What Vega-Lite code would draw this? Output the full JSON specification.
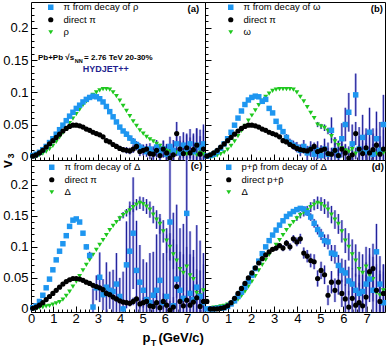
{
"$schema":"https://vega.github.io/schema/vega-lite/v6.json",
"background":"white",
"padding":{"left":0,"top":1,"right":2,"bottom":0},
"columns":2,"spacing":0,"align":"each","bounds":"flush",
"resolve":{"scale":{"x":"independent","y":"independent","color":"independent","shape":"independent","size":"independent"},"legend":{"color":"independent","shape":"independent","size":"independent"},"axis":{"x":"independent","y":"independent"}},
"config":{
"font":"Liberation Sans",
"view":{"stroke":"#000","strokeWidth":1},
"axis":{"domain":false,"grid":false,"tickColor":"#000","labelColor":"#000","labelFontSize":13,"labelFlush":false,"labelOverlap":false,"labelFont":"Liberation Sans"},
"legend":{"labelFontSize":9.5,"labelColor":"#000","rowPadding":1.5,"labelOffset":8,"symbolStrokeWidth":0,"labelFont":"Liberation Sans","padding":0},
"text":{"font":"Liberation Sans","fill":"#000"}
},
"datasets":{
"a":[
{"s":"r","x":0.08,"y":0},{"s":"r","x":0.23,"y":0.001},{"s":"r","x":0.38,"y":0.003},{"s":"r","x":0.53,"y":0.005},{"s":"r","x":0.68,"y":0.008},{"s":"r","x":0.83,"y":0.012},{"s":"r","x":0.98,"y":0.017},{"s":"r","x":1.13,"y":0.023},{"s":"r","x":1.28,"y":0.03},{"s":"r","x":1.43,"y":0.037},{"s":"r","x":1.58,"y":0.044},{"s":"r","x":1.73,"y":0.052},{"s":"r","x":1.88,"y":0.059},{"s":"r","x":2.03,"y":0.066},{"s":"r","x":2.18,"y":0.073},{"s":"r","x":2.33,"y":0.08},{"s":"r","x":2.48,"y":0.086},{"s":"r","x":2.63,"y":0.091},{"s":"r","x":2.78,"y":0.096},{"s":"r","x":2.93,"y":0.1},{"s":"r","x":3.08,"y":0.103},{"s":"r","x":3.23,"y":0.105},{"s":"r","x":3.38,"y":0.105},{"s":"r","x":3.53,"y":0.104},{"s":"r","x":3.68,"y":0.1},{"s":"r","x":3.83,"y":0.094},{"s":"r","x":3.98,"y":0.087},{"s":"r","x":4.13,"y":0.079},{"s":"r","x":4.28,"y":0.071},{"s":"r","x":4.43,"y":0.063},{"s":"r","x":4.58,"y":0.055},{"s":"r","x":4.73,"y":0.048},{"s":"r","x":4.88,"y":0.041},{"s":"r","x":5.03,"y":0.036},{"s":"r","x":5.18,"y":0.031},{"s":"r","x":5.33,"y":0.027},{"s":"r","x":5.48,"y":0.024},{"s":"r","x":5.63,"y":0.02},{"s":"r","x":5.78,"y":0.017},{"s":"r","x":5.93,"y":0.013,"e":0.004},{"s":"r","x":6.08,"y":0.01,"e":0.005},{"s":"r","x":6.23,"y":0.008,"e":0.005},{"s":"r","x":6.38,"y":0.006,"e":0.006},{"s":"r","x":6.53,"y":0.007,"e":0.006},{"s":"r","x":6.68,"y":0.005,"e":0.007},{"s":"r","x":6.83,"y":0.006,"e":0.007},{"s":"r","x":6.98,"y":0.004,"e":0.008},{"s":"r","x":7.13,"y":0.006,"e":0.008},{"s":"r","x":7.28,"y":0.005,"e":0.009},{"s":"r","x":7.43,"y":0.003,"e":0.009},{"s":"r","x":7.58,"y":0.006,"e":0.01},{"s":"r","x":7.73,"y":0.004,"e":0.01},
{"s":"q","x":0.08,"y":0.002},{"s":"q","x":0.23,"y":0.004},{"s":"q","x":0.38,"y":0.007},{"s":"q","x":0.53,"y":0.011},{"s":"q","x":0.68,"y":0.016},{"s":"q","x":0.83,"y":0.022},{"s":"q","x":0.98,"y":0.028},{"s":"q","x":1.13,"y":0.035},{"s":"q","x":1.28,"y":0.042},{"s":"q","x":1.43,"y":0.049},{"s":"q","x":1.58,"y":0.056},{"s":"q","x":1.73,"y":0.063},{"s":"q","x":1.88,"y":0.069},{"s":"q","x":2.03,"y":0.075},{"s":"q","x":2.18,"y":0.08},{"s":"q","x":2.33,"y":0.085},{"s":"q","x":2.48,"y":0.089},{"s":"q","x":2.63,"y":0.092},{"s":"q","x":2.78,"y":0.094},{"s":"q","x":2.93,"y":0.093},{"s":"q","x":3.08,"y":0.09},{"s":"q","x":3.23,"y":0.085},{"s":"q","x":3.38,"y":0.078},{"s":"q","x":3.53,"y":0.07},{"s":"q","x":3.68,"y":0.062},{"s":"q","x":3.83,"y":0.054},{"s":"q","x":3.98,"y":0.046},{"s":"q","x":4.13,"y":0.04,"e":0.003},{"s":"q","x":4.28,"y":0.035,"e":0.004},{"s":"q","x":4.43,"y":0.029,"e":0.004},{"s":"q","x":4.58,"y":0.024,"e":0.005},{"s":"q","x":4.73,"y":0.019,"e":0.005},{"s":"q","x":4.88,"y":0.015,"e":0.006},{"s":"q","x":5.03,"y":0.012,"e":0.007},{"s":"q","x":5.18,"y":0.008,"e":0.008},{"s":"q","x":5.33,"y":0.012,"e":0.009},{"s":"q","x":5.48,"y":0.006,"e":0.01},{"s":"q","x":5.63,"y":0.015,"e":0.011},{"s":"q","x":5.78,"y":0.008,"e":0.012},{"s":"q","x":5.93,"y":0.012,"e":0.013},{"s":"q","x":6.08,"y":0.004,"e":0.014},{"s":"q","x":6.23,"y":0.016,"e":0.015},{"s":"q","x":6.38,"y":0.01,"e":0.016},{"s":"q","x":6.53,"y":0.02,"e":0.018},{"s":"q","x":6.68,"y":0.006,"e":0.019},{"s":"q","x":6.83,"y":0.018,"e":0.02},{"s":"q","x":6.98,"y":0.012,"e":0.022},{"s":"q","x":7.13,"y":0.02,"e":0.023},{"s":"q","x":7.28,"y":0.008,"e":0.025},{"s":"q","x":7.43,"y":0.018,"e":0.026},{"s":"q","x":7.58,"y":0.014,"e":0.028},{"s":"q","x":7.73,"y":0.02,"e":0.03},
{"s":"d","x":0.08,"y":0.001},{"s":"d","x":0.23,"y":0.003},{"s":"d","x":0.38,"y":0.006},{"s":"d","x":0.53,"y":0.01},{"s":"d","x":0.68,"y":0.015},{"s":"d","x":0.83,"y":0.02},{"s":"d","x":0.98,"y":0.025},{"s":"d","x":1.13,"y":0.03},{"s":"d","x":1.28,"y":0.035},{"s":"d","x":1.43,"y":0.04},{"s":"d","x":1.58,"y":0.044},{"s":"d","x":1.73,"y":0.047},{"s":"d","x":1.88,"y":0.049},{"s":"d","x":2.03,"y":0.049},{"s":"d","x":2.18,"y":0.048},{"s":"d","x":2.33,"y":0.046},{"s":"d","x":2.48,"y":0.043},{"s":"d","x":2.63,"y":0.041},{"s":"d","x":2.78,"y":0.038},{"s":"d","x":2.93,"y":0.036},{"s":"d","x":3.08,"y":0.034},{"s":"d","x":3.23,"y":0.031},{"s":"d","x":3.38,"y":0.025,"e":0.003},{"s":"d","x":3.53,"y":0.023,"e":0.003},{"s":"d","x":3.68,"y":0.019,"e":0.003},{"s":"d","x":3.83,"y":0.016,"e":0.004},{"s":"d","x":3.98,"y":0.013,"e":0.004},{"s":"d","x":4.13,"y":0.011,"e":0.004},{"s":"d","x":4.28,"y":0.01,"e":0.005},{"s":"d","x":4.43,"y":0.009,"e":0.005},{"s":"d","x":4.58,"y":0.012,"e":0.006},{"s":"d","x":4.73,"y":0.016,"e":0.006},{"s":"d","x":4.88,"y":0.008,"e":0.007},{"s":"d","x":5.03,"y":0.01,"e":0.008},{"s":"d","x":5.18,"y":0.012,"e":0.008},{"s":"d","x":5.33,"y":0.005,"e":0.009},{"s":"d","x":5.48,"y":0.004,"e":0.01},{"s":"d","x":5.63,"y":0.01,"e":0.011},{"s":"d","x":5.78,"y":0.002,"e":0.012},{"s":"d","x":5.93,"y":0.012,"e":0.013},{"s":"d","x":6.08,"y":0.006,"e":0.014},{"s":"d","x":6.23,"y":-0.002,"e":0.015},{"s":"d","x":6.38,"y":0.003,"e":0.016},{"s":"d","x":6.53,"y":0.036,"e":0.018},{"s":"d","x":6.68,"y":0.012,"e":0.02},{"s":"d","x":6.83,"y":0.005,"e":0.02},{"s":"d","x":6.98,"y":0.014,"e":0.022},{"s":"d","x":7.13,"y":0.006,"e":0.024},{"s":"d","x":7.28,"y":0.011,"e":0.025},{"s":"d","x":7.43,"y":0.018,"e":0.026},{"s":"d","x":7.58,"y":0.004,"e":0.028},{"s":"d","x":7.73,"y":0.012,"e":0.03}
],
"b":[
{"s":"r","x":0.08,"y":0},{"s":"r","x":0.23,"y":0},{"s":"r","x":0.38,"y":0.001},{"s":"r","x":0.53,"y":0.002},{"s":"r","x":0.68,"y":0.004},{"s":"r","x":0.83,"y":0.007},{"s":"r","x":0.98,"y":0.011},{"s":"r","x":1.13,"y":0.017},{"s":"r","x":1.28,"y":0.024},{"s":"r","x":1.43,"y":0.032},{"s":"r","x":1.58,"y":0.04},{"s":"r","x":1.73,"y":0.048},{"s":"r","x":1.88,"y":0.056},{"s":"r","x":2.03,"y":0.064},{"s":"r","x":2.18,"y":0.072},{"s":"r","x":2.33,"y":0.08},{"s":"r","x":2.48,"y":0.087},{"s":"r","x":2.63,"y":0.093},{"s":"r","x":2.78,"y":0.098},{"s":"r","x":2.93,"y":0.102},{"s":"r","x":3.08,"y":0.104},{"s":"r","x":3.23,"y":0.105},{"s":"r","x":3.38,"y":0.105},{"s":"r","x":3.53,"y":0.105},{"s":"r","x":3.68,"y":0.105},{"s":"r","x":3.83,"y":0.104},{"s":"r","x":3.98,"y":0.1},{"s":"r","x":4.13,"y":0.093},{"s":"r","x":4.28,"y":0.086},{"s":"r","x":4.43,"y":0.077},{"s":"r","x":4.58,"y":0.068},{"s":"r","x":4.73,"y":0.06},{"s":"r","x":4.88,"y":0.05,"e":0.004},{"s":"r","x":5.03,"y":0.047,"e":0.004},{"s":"r","x":5.18,"y":0.045,"e":0.005},{"s":"r","x":5.33,"y":0.04,"e":0.005},{"s":"r","x":5.48,"y":0.032,"e":0.006},{"s":"r","x":5.63,"y":0.024,"e":0.006},{"s":"r","x":5.78,"y":0.018,"e":0.007},{"s":"r","x":5.93,"y":0.013,"e":0.007},{"s":"r","x":6.08,"y":0.01,"e":0.008},{"s":"r","x":6.23,"y":0.008,"e":0.008},{"s":"r","x":6.38,"y":0.012,"e":0.009},{"s":"r","x":6.53,"y":0.005,"e":0.009},{"s":"r","x":6.68,"y":0.009,"e":0.01},{"s":"r","x":6.83,"y":0.006,"e":0.01},{"s":"r","x":6.98,"y":0.01,"e":0.011},{"s":"r","x":7.13,"y":0.004,"e":0.011},{"s":"r","x":7.28,"y":0.008,"e":0.012},{"s":"r","x":7.43,"y":0.005,"e":0.012},{"s":"r","x":7.58,"y":0.01,"e":0.013},{"s":"r","x":7.73,"y":0.006,"e":0.013},
{"s":"q","x":0.08,"y":0.001},{"s":"q","x":0.23,"y":0.002},{"s":"q","x":0.38,"y":0.004},{"s":"q","x":0.53,"y":0.008},{"s":"q","x":0.68,"y":0.013},{"s":"q","x":0.83,"y":0.02},{"s":"q","x":0.98,"y":0.028},{"s":"q","x":1.13,"y":0.038},{"s":"q","x":1.28,"y":0.049},{"s":"q","x":1.43,"y":0.06},{"s":"q","x":1.58,"y":0.071},{"s":"q","x":1.73,"y":0.081},{"s":"q","x":1.88,"y":0.088},{"s":"q","x":2.03,"y":0.092},{"s":"q","x":2.18,"y":0.094},{"s":"q","x":2.33,"y":0.093},{"s":"q","x":2.48,"y":0.086},{"s":"q","x":2.63,"y":0.089},{"s":"q","x":2.78,"y":0.075},{"s":"q","x":2.93,"y":0.068},{"s":"q","x":3.08,"y":0.055},{"s":"q","x":3.23,"y":0.046},{"s":"q","x":3.38,"y":0.039,"e":0.004},{"s":"q","x":3.53,"y":0.03,"e":0.005},{"s":"q","x":3.68,"y":0.022,"e":0.006},{"s":"q","x":3.83,"y":0.018,"e":0.007},{"s":"q","x":3.98,"y":0.015,"e":0.008},{"s":"q","x":4.13,"y":0.01,"e":0.009},{"s":"q","x":4.28,"y":0.016,"e":0.01},{"s":"q","x":4.43,"y":0.006,"e":0.011},{"s":"q","x":4.58,"y":0.012,"e":0.012},{"s":"q","x":4.73,"y":0.004,"e":0.013},{"s":"q","x":4.88,"y":0.01,"e":0.014},{"s":"q","x":5.03,"y":0.002,"e":0.015},{"s":"q","x":5.18,"y":0.012,"e":0.016},{"s":"q","x":5.33,"y":0.004,"e":0.018},{"s":"q","x":5.48,"y":0.041,"e":0.02},{"s":"q","x":5.63,"y":0.01,"e":0.02},{"s":"q","x":5.78,"y":0.002,"e":0.022},{"s":"q","x":5.93,"y":0.028,"e":0.024},{"s":"q","x":6.08,"y":0.05,"e":0.026},{"s":"q","x":6.23,"y":0.069,"e":0.03},{"s":"q","x":6.38,"y":0.02,"e":0.03},{"s":"q","x":6.53,"y":0.096,"e":0.033},{"s":"q","x":6.68,"y":0.012,"e":0.034},{"s":"q","x":6.83,"y":0.03,"e":0.035},{"s":"q","x":6.98,"y":0.008,"e":0.036},{"s":"q","x":7.13,"y":0.038,"e":0.038},{"s":"q","x":7.28,"y":0.004,"e":0.04},{"s":"q","x":7.43,"y":0.028,"e":0.042},{"s":"q","x":7.58,"y":0.01,"e":0.044},{"s":"q","x":7.73,"y":0.05,"e":0.046},
{"s":"d","x":0.08,"y":0.001},{"s":"d","x":0.23,"y":0.003},{"s":"d","x":0.38,"y":0.006},{"s":"d","x":0.53,"y":0.01},{"s":"d","x":0.68,"y":0.015},{"s":"d","x":0.83,"y":0.02},{"s":"d","x":0.98,"y":0.025},{"s":"d","x":1.13,"y":0.03},{"s":"d","x":1.28,"y":0.035},{"s":"d","x":1.43,"y":0.04},{"s":"d","x":1.58,"y":0.044},{"s":"d","x":1.73,"y":0.047},{"s":"d","x":1.88,"y":0.049},{"s":"d","x":2.03,"y":0.049},{"s":"d","x":2.18,"y":0.048},{"s":"d","x":2.33,"y":0.046},{"s":"d","x":2.48,"y":0.043},{"s":"d","x":2.63,"y":0.041},{"s":"d","x":2.78,"y":0.038},{"s":"d","x":2.93,"y":0.036},{"s":"d","x":3.08,"y":0.034},{"s":"d","x":3.23,"y":0.031},{"s":"d","x":3.38,"y":0.025,"e":0.003},{"s":"d","x":3.53,"y":0.023,"e":0.003},{"s":"d","x":3.68,"y":0.019,"e":0.003},{"s":"d","x":3.83,"y":0.016,"e":0.004},{"s":"d","x":3.98,"y":0.013,"e":0.004},{"s":"d","x":4.13,"y":0.011,"e":0.004},{"s":"d","x":4.28,"y":0.01,"e":0.005},{"s":"d","x":4.43,"y":0.009,"e":0.005},{"s":"d","x":4.58,"y":0.012,"e":0.006},{"s":"d","x":4.73,"y":0.016,"e":0.006},{"s":"d","x":4.88,"y":0.008,"e":0.007},{"s":"d","x":5.03,"y":0.01,"e":0.008},{"s":"d","x":5.18,"y":0.012,"e":0.008},{"s":"d","x":5.33,"y":0.005,"e":0.009},{"s":"d","x":5.48,"y":0.004,"e":0.01},{"s":"d","x":5.63,"y":0.01,"e":0.011},{"s":"d","x":5.78,"y":0.002,"e":0.012},{"s":"d","x":5.93,"y":0.012,"e":0.013},{"s":"d","x":6.08,"y":0.006,"e":0.014},{"s":"d","x":6.23,"y":-0.002,"e":0.015},{"s":"d","x":6.38,"y":0.003,"e":0.016},{"s":"d","x":6.53,"y":0.036,"e":0.018},{"s":"d","x":6.68,"y":0.012,"e":0.02},{"s":"d","x":6.83,"y":0.005,"e":0.02},{"s":"d","x":6.98,"y":0.014,"e":0.022},{"s":"d","x":7.13,"y":0.006,"e":0.024},{"s":"d","x":7.28,"y":0.011,"e":0.025},{"s":"d","x":7.43,"y":0.018,"e":0.026},{"s":"d","x":7.58,"y":0.004,"e":0.028},{"s":"d","x":7.73,"y":0.012,"e":0.03}
],
"c":[
{"s":"r","x":0.08,"y":0},{"s":"r","x":0.23,"y":0.001},{"s":"r","x":0.38,"y":0.002},{"s":"r","x":0.53,"y":0.003},{"s":"r","x":0.68,"y":0.004},{"s":"r","x":0.83,"y":0.005},{"s":"r","x":0.98,"y":0.007},{"s":"r","x":1.13,"y":0.009},{"s":"r","x":1.28,"y":0.011},{"s":"r","x":1.43,"y":0.015},{"s":"r","x":1.58,"y":0.021},{"s":"r","x":1.73,"y":0.028},{"s":"r","x":1.88,"y":0.036},{"s":"r","x":2.03,"y":0.044},{"s":"r","x":2.18,"y":0.053},{"s":"r","x":2.33,"y":0.062},{"s":"r","x":2.48,"y":0.071},{"s":"r","x":2.63,"y":0.079},{"s":"r","x":2.78,"y":0.087},{"s":"r","x":2.93,"y":0.095},{"s":"r","x":3.08,"y":0.103},{"s":"r","x":3.23,"y":0.111},{"s":"r","x":3.38,"y":0.119},{"s":"r","x":3.53,"y":0.127},{"s":"r","x":3.68,"y":0.134},{"s":"r","x":3.83,"y":0.14},{"s":"r","x":3.98,"y":0.146,"e":0.004},{"s":"r","x":4.13,"y":0.151,"e":0.005},{"s":"r","x":4.28,"y":0.155,"e":0.006},{"s":"r","x":4.43,"y":0.159,"e":0.007},{"s":"r","x":4.58,"y":0.164,"e":0.008},{"s":"r","x":4.73,"y":0.168,"e":0.009},{"s":"r","x":4.88,"y":0.171,"e":0.01},{"s":"r","x":5.03,"y":0.169,"e":0.011},{"s":"r","x":5.18,"y":0.165,"e":0.012},{"s":"r","x":5.33,"y":0.16,"e":0.013},{"s":"r","x":5.48,"y":0.152,"e":0.014},{"s":"r","x":5.63,"y":0.144,"e":0.015},{"s":"r","x":5.78,"y":0.137,"e":0.016},{"s":"r","x":5.93,"y":0.125,"e":0.018},{"s":"r","x":6.08,"y":0.11,"e":0.02},{"s":"r","x":6.23,"y":0.1,"e":0.022},{"s":"r","x":6.38,"y":0.088,"e":0.024},{"s":"r","x":6.53,"y":0.078,"e":0.026},{"s":"r","x":6.68,"y":0.064,"e":0.028},{"s":"r","x":6.83,"y":0.058,"e":0.03},{"s":"r","x":6.98,"y":0.068,"e":0.032},{"s":"r","x":7.13,"y":0.054,"e":0.034},{"s":"r","x":7.28,"y":0.048,"e":0.036},{"s":"r","x":7.43,"y":0.026,"e":0.038},{"s":"r","x":7.58,"y":0.022,"e":0.04},{"s":"r","x":7.73,"y":0.03,"e":0.042},
{"s":"q","x":0.08,"y":0.002},{"s":"q","x":0.23,"y":0.005},{"s":"q","x":0.38,"y":0.012},{"s":"q","x":0.53,"y":0.022},{"s":"q","x":0.68,"y":0.034},{"s":"q","x":0.83,"y":0.048},{"s":"q","x":0.98,"y":0.063},{"s":"q","x":1.13,"y":0.079},{"s":"q","x":1.28,"y":0.093},{"s":"q","x":1.43,"y":0.105},{"s":"q","x":1.58,"y":0.118},{"s":"q","x":1.73,"y":0.133},{"s":"q","x":1.88,"y":0.143},{"s":"q","x":2.03,"y":0.145},{"s":"q","x":2.18,"y":0.14},{"s":"q","x":2.33,"y":0.122,"e":0.003},{"s":"q","x":2.48,"y":0.1,"e":0.004},{"s":"q","x":2.63,"y":0.086,"e":0.006},{"s":"q","x":2.78,"y":0.003,"e":0.03},{"s":"q","x":2.93,"y":0.034,"e":0.02},{"s":"q","x":3.08,"y":0.051,"e":0.04},{"s":"q","x":3.23,"y":0.023,"e":0.025},{"s":"q","x":3.38,"y":0.035,"e":0.04},{"s":"q","x":3.53,"y":0.03,"e":0.03},{"s":"q","x":3.68,"y":0.028,"e":0.035},{"s":"q","x":3.83,"y":0.04,"e":0.05},{"s":"q","x":3.98,"y":0.02,"e":0.03},{"s":"q","x":4.13,"y":0,"e":0.06},{"s":"q","x":4.28,"y":0.071,"e":0.07},{"s":"q","x":4.43,"y":0.093,"e":0.08},{"s":"q","x":4.58,"y":0.122,"e":0.09},{"s":"q","x":4.73,"y":0.062,"e":0.08},{"s":"q","x":4.88,"y":0.043,"e":0.06},{"s":"q","x":5.03,"y":0.03,"e":0.05},{"s":"q","x":5.18,"y":0.015,"e":0.06},{"s":"q","x":5.33,"y":0.01,"e":0.08},{"s":"q","x":5.48,"y":0.022,"e":0.07},{"s":"q","x":5.63,"y":0.03,"e":0.09},{"s":"q","x":5.78,"y":0.046,"e":0.1},{"s":"q","x":5.93,"y":0.01,"e":0.08},{"s":"q","x":6.08,"y":0.02,"e":0.1},{"s":"q","x":6.23,"y":0.14,"e":0.16},{"s":"q","x":6.38,"y":0.005,"e":0.15},{"s":"q","x":6.53,"y":0.048,"e":0.12},{"s":"q","x":6.68,"y":0.03,"e":0.1},{"s":"q","x":6.83,"y":0.017,"e":0.12},{"s":"q","x":6.98,"y":0.154,"e":0.16},{"s":"q","x":7.13,"y":0.025,"e":0.1},{"s":"q","x":7.28,"y":0.015,"e":0.08},{"s":"q","x":7.43,"y":0.035,"e":0.1},{"s":"q","x":7.58,"y":0.02,"e":0.09},{"s":"q","x":7.73,"y":0.01,"e":0.08},
{"s":"d","x":0.08,"y":0.001},{"s":"d","x":0.23,"y":0.003},{"s":"d","x":0.38,"y":0.006},{"s":"d","x":0.53,"y":0.01},{"s":"d","x":0.68,"y":0.015},{"s":"d","x":0.83,"y":0.02},{"s":"d","x":0.98,"y":0.025},{"s":"d","x":1.13,"y":0.03},{"s":"d","x":1.28,"y":0.035},{"s":"d","x":1.43,"y":0.04},{"s":"d","x":1.58,"y":0.044},{"s":"d","x":1.73,"y":0.047},{"s":"d","x":1.88,"y":0.049},{"s":"d","x":2.03,"y":0.049},{"s":"d","x":2.18,"y":0.048},{"s":"d","x":2.33,"y":0.046},{"s":"d","x":2.48,"y":0.043},{"s":"d","x":2.63,"y":0.041},{"s":"d","x":2.78,"y":0.038},{"s":"d","x":2.93,"y":0.036},{"s":"d","x":3.08,"y":0.034},{"s":"d","x":3.23,"y":0.031},{"s":"d","x":3.38,"y":0.025,"e":0.003},{"s":"d","x":3.53,"y":0.023,"e":0.003},{"s":"d","x":3.68,"y":0.019,"e":0.003},{"s":"d","x":3.83,"y":0.016,"e":0.004},{"s":"d","x":3.98,"y":0.013,"e":0.004},{"s":"d","x":4.13,"y":0.011,"e":0.004},{"s":"d","x":4.28,"y":0.01,"e":0.005},{"s":"d","x":4.43,"y":0.009,"e":0.005},{"s":"d","x":4.58,"y":0.012,"e":0.006},{"s":"d","x":4.73,"y":0.016,"e":0.006},{"s":"d","x":4.88,"y":0.008,"e":0.007},{"s":"d","x":5.03,"y":0.01,"e":0.008},{"s":"d","x":5.18,"y":0.012,"e":0.008},{"s":"d","x":5.33,"y":0.005,"e":0.009},{"s":"d","x":5.48,"y":0.004,"e":0.01},{"s":"d","x":5.63,"y":0.01,"e":0.011},{"s":"d","x":5.78,"y":0.002,"e":0.012},{"s":"d","x":5.93,"y":0.012,"e":0.013},{"s":"d","x":6.08,"y":0.006,"e":0.014},{"s":"d","x":6.23,"y":-0.002,"e":0.015},{"s":"d","x":6.38,"y":0.003,"e":0.016},{"s":"d","x":6.53,"y":0.036,"e":0.018},{"s":"d","x":6.68,"y":0.012,"e":0.02},{"s":"d","x":6.83,"y":0.005,"e":0.02},{"s":"d","x":6.98,"y":0.014,"e":0.022},{"s":"d","x":7.13,"y":0.006,"e":0.024},{"s":"d","x":7.28,"y":0.011,"e":0.025},{"s":"d","x":7.43,"y":0.018,"e":0.026},{"s":"d","x":7.58,"y":0.004,"e":0.028},{"s":"d","x":7.73,"y":0.012,"e":0.03}
],
"d":[
{"s":"r","x":0.08,"y":0},{"s":"r","x":0.23,"y":0.001},{"s":"r","x":0.38,"y":0.002},{"s":"r","x":0.53,"y":0.003},{"s":"r","x":0.68,"y":0.004},{"s":"r","x":0.83,"y":0.005},{"s":"r","x":0.98,"y":0.007},{"s":"r","x":1.13,"y":0.009},{"s":"r","x":1.28,"y":0.011},{"s":"r","x":1.43,"y":0.015},{"s":"r","x":1.58,"y":0.021},{"s":"r","x":1.73,"y":0.028},{"s":"r","x":1.88,"y":0.036},{"s":"r","x":2.03,"y":0.044},{"s":"r","x":2.18,"y":0.053},{"s":"r","x":2.33,"y":0.062},{"s":"r","x":2.48,"y":0.071},{"s":"r","x":2.63,"y":0.079},{"s":"r","x":2.78,"y":0.087},{"s":"r","x":2.93,"y":0.095},{"s":"r","x":3.08,"y":0.103},{"s":"r","x":3.23,"y":0.111},{"s":"r","x":3.38,"y":0.119},{"s":"r","x":3.53,"y":0.127},{"s":"r","x":3.68,"y":0.134},{"s":"r","x":3.83,"y":0.14},{"s":"r","x":3.98,"y":0.146,"e":0.004},{"s":"r","x":4.13,"y":0.151,"e":0.005},{"s":"r","x":4.28,"y":0.155,"e":0.006},{"s":"r","x":4.43,"y":0.159,"e":0.007},{"s":"r","x":4.58,"y":0.164,"e":0.008},{"s":"r","x":4.73,"y":0.168,"e":0.009},{"s":"r","x":4.88,"y":0.171,"e":0.01},{"s":"r","x":5.03,"y":0.169,"e":0.011},{"s":"r","x":5.18,"y":0.165,"e":0.012},{"s":"r","x":5.33,"y":0.16,"e":0.013},{"s":"r","x":5.48,"y":0.152,"e":0.014},{"s":"r","x":5.63,"y":0.144,"e":0.015},{"s":"r","x":5.78,"y":0.137,"e":0.016},{"s":"r","x":5.93,"y":0.125,"e":0.018},{"s":"r","x":6.08,"y":0.11,"e":0.02},{"s":"r","x":6.23,"y":0.1,"e":0.022},{"s":"r","x":6.38,"y":0.088,"e":0.024},{"s":"r","x":6.53,"y":0.078,"e":0.026},{"s":"r","x":6.68,"y":0.064,"e":0.028},{"s":"r","x":6.83,"y":0.058,"e":0.03},{"s":"r","x":6.98,"y":0.068,"e":0.032},{"s":"r","x":7.13,"y":0.054,"e":0.034},{"s":"r","x":7.28,"y":0.048,"e":0.036},{"s":"r","x":7.43,"y":0.026,"e":0.038},{"s":"r","x":7.58,"y":0.022,"e":0.04},{"s":"r","x":7.73,"y":0.03,"e":0.042},
{"s":"q","x":0.08,"y":0},{"s":"q","x":0.23,"y":0},{"s":"q","x":0.38,"y":0},{"s":"q","x":0.53,"y":0.001},{"s":"q","x":0.68,"y":0.001},{"s":"q","x":0.83,"y":0.002},{"s":"q","x":0.98,"y":0.004},{"s":"q","x":1.13,"y":0.008},{"s":"q","x":1.28,"y":0.013},{"s":"q","x":1.43,"y":0.02},{"s":"q","x":1.58,"y":0.027},{"s":"q","x":1.73,"y":0.035},{"s":"q","x":1.88,"y":0.044},{"s":"q","x":2.03,"y":0.054},{"s":"q","x":2.18,"y":0.065},{"s":"q","x":2.33,"y":0.077},{"s":"q","x":2.48,"y":0.089},{"s":"q","x":2.63,"y":0.1},{"s":"q","x":2.78,"y":0.11},{"s":"q","x":2.93,"y":0.119},{"s":"q","x":3.08,"y":0.127},{"s":"q","x":3.23,"y":0.135},{"s":"q","x":3.38,"y":0.142},{"s":"q","x":3.53,"y":0.149},{"s":"q","x":3.68,"y":0.153},{"s":"q","x":3.83,"y":0.157},{"s":"q","x":3.98,"y":0.16},{"s":"q","x":4.13,"y":0.162},{"s":"q","x":4.28,"y":0.161,"e":0.004},{"s":"q","x":4.43,"y":0.155,"e":0.005},{"s":"q","x":4.58,"y":0.148,"e":0.006},{"s":"q","x":4.73,"y":0.138,"e":0.007},{"s":"q","x":4.88,"y":0.128,"e":0.008},{"s":"q","x":5.03,"y":0.12,"e":0.009},{"s":"q","x":5.18,"y":0.11,"e":0.01},{"s":"q","x":5.33,"y":0.108,"e":0.012},{"s":"q","x":5.48,"y":0.09,"e":0.013},{"s":"q","x":5.63,"y":0.088,"e":0.015},{"s":"q","x":5.78,"y":0.07,"e":0.017},{"s":"q","x":5.93,"y":0.062,"e":0.019},{"s":"q","x":6.08,"y":0.058,"e":0.021},{"s":"q","x":6.23,"y":0.045,"e":0.023},{"s":"q","x":6.38,"y":0.04,"e":0.025},{"s":"q","x":6.53,"y":0.03,"e":0.027},{"s":"q","x":6.68,"y":0.025,"e":0.03},{"s":"q","x":6.83,"y":0.028,"e":0.032},{"s":"q","x":6.98,"y":0.04,"e":0.035},{"s":"q","x":7.13,"y":0.048,"e":0.037},{"s":"q","x":7.28,"y":0.03,"e":0.04},{"s":"q","x":7.43,"y":0.092,"e":0.045},{"s":"q","x":7.58,"y":0.04,"e":0.045},{"s":"q","x":7.73,"y":0.01,"e":0.05},
{"s":"d","x":0.08,"y":0.012,"e":0.004},{"s":"d","x":0.23,"y":0},{"s":"d","x":0.38,"y":0},{"s":"d","x":0.53,"y":0},{"s":"d","x":0.68,"y":0.001},{"s":"d","x":0.83,"y":0.002},{"s":"d","x":0.98,"y":0.005},{"s":"d","x":1.13,"y":0.01},{"s":"d","x":1.28,"y":0.017},{"s":"d","x":1.43,"y":0.025},{"s":"d","x":1.58,"y":0.033},{"s":"d","x":1.73,"y":0.041},{"s":"d","x":1.88,"y":0.05},{"s":"d","x":2.03,"y":0.058},{"s":"d","x":2.18,"y":0.066},{"s":"d","x":2.33,"y":0.074},{"s":"d","x":2.48,"y":0.081},{"s":"d","x":2.63,"y":0.087},{"s":"d","x":2.78,"y":0.092},{"s":"d","x":2.93,"y":0.096},{"s":"d","x":3.08,"y":0.098,"e":0.004},{"s":"d","x":3.23,"y":0.102,"e":0.004},{"s":"d","x":3.38,"y":0.098,"e":0.005},{"s":"d","x":3.53,"y":0.106,"e":0.005},{"s":"d","x":3.68,"y":0.1,"e":0.006},{"s":"d","x":3.83,"y":0.113,"e":0.006},{"s":"d","x":3.98,"y":0.108,"e":0.007},{"s":"d","x":4.13,"y":0.113,"e":0.008},{"s":"d","x":4.28,"y":0.09,"e":0.009},{"s":"d","x":4.43,"y":0.085,"e":0.01},{"s":"d","x":4.58,"y":0.078,"e":0.011},{"s":"d","x":4.73,"y":0.076,"e":0.012},{"s":"d","x":4.88,"y":0.049,"e":0.013},{"s":"d","x":5.03,"y":0.062,"e":0.014},{"s":"d","x":5.18,"y":0.055,"e":0.015},{"s":"d","x":5.33,"y":0.022,"e":0.016},{"s":"d","x":5.48,"y":0.043,"e":0.018},{"s":"d","x":5.63,"y":0.03,"e":0.019},{"s":"d","x":5.78,"y":0.043,"e":0.02},{"s":"d","x":5.93,"y":0.025,"e":0.022},{"s":"d","x":6.08,"y":0.016,"e":0.024},{"s":"d","x":6.23,"y":0.003,"e":0.026},{"s":"d","x":6.38,"y":0.017,"e":0.028},{"s":"d","x":6.53,"y":0.006,"e":0.03},{"s":"d","x":6.68,"y":0.01,"e":0.032},{"s":"d","x":6.83,"y":0.005,"e":0.034},{"s":"d","x":6.98,"y":0.019,"e":0.036},{"s":"d","x":7.13,"y":0.06,"e":0.038},{"s":"d","x":7.28,"y":0.065,"e":0.04},{"s":"d","x":7.43,"y":0.03,"e":0.042},{"s":"d","x":7.58,"y":0.012,"e":0.044},{"s":"d","x":7.73,"y":0.025,"e":0.046}
]
},
"concat":[
{"width":174,"height":158,"data":{"name":"a"},
"resolve":{"axis":{"x":"independent","y":"independent"}},
"layer":[
{"encoding":{
"x":{"field":"x","type":"quantitative","scale":{"domain":[0,7.8],"nice":false,"zero":false},"axis":{"title":null,"labels":false,"values":[0,0.2,0.4,0.6,0.8,1,1.2,1.4,1.6,1.8,2,2.2,2.4,2.6,2.8,3,3.2,3.4,3.6,3.8,4,4.2,4.4,4.6,4.8,5,5.2,5.4,5.6,5.8,6,6.2,6.4,6.6,6.8,7,7.2,7.4,7.6],"tickSize":{"condition":{"test":"abs(datum.value-round(datum.value))<0.01","value":-6},"value":-3}}},
"y":{"field":"y","type":"quantitative","scale":{"domain":[-0.005,0.24],"nice":false,"zero":false},"axis":{"title":null,"values":[0,0.01,0.02,0.03,0.04,0.05,0.06,0.07,0.08,0.09,0.1,0.11,0.12,0.13,0.14,0.15,0.16,0.17,0.18,0.19,0.2,0.21,0.22,0.23],"labelExpr":"abs(datum.value*20-round(datum.value*20))<0.01?format(datum.value,'~g'):''","tickSize":{"condition":{"test":"abs(datum.value*20-round(datum.value*20))<0.01","value":-6},"value":-3},"labelPadding":9}}},
"layer":[
{"transform":[{"filter":"datum.e>0"}],"mark":{"type":"errorbar","clip":true,"color":"#b4b4ea","thickness":2.5},"encoding":{"yError":{"field":"e"}}},
{"transform":[{"filter":"datum.e>0"}],"mark":{"type":"errorbar","clip":true,"color":"#1c1c96","thickness":1},"encoding":{"yError":{"field":"e"}}},
{"mark":{"type":"point","filled":true,"opacity":1},"encoding":{
"color":{"field":"s","type":"nominal","scale":{"domain":["q","d","r"],"range":["#1e96f0","#000000","#1ec81e"]},"legend":{"orient":"none","legendX":15,"legendY":0.5,"title":null,"labelExpr":"datum.label=='q'?'π from decay of ρ':datum.label=='d'?'direct π':'ρ'"}},
"shape":{"field":"s","type":"nominal","scale":{"domain":["q","d","r"],"range":["square","circle","triangle-down"]},"legend":{"orient":"none","legendX":15,"legendY":0.5,"title":null,"labelExpr":"datum.label=='q'?'π from decay of ρ':datum.label=='d'?'direct π':'ρ'"}},
"size":{"field":"s","type":"ordinal","scale":{"domain":["q","d","r"],"range":[30,24,60]},"legend":{"orient":"none","legendX":15,"legendY":0.5,"title":null,"labelExpr":"datum.label=='q'?'π from decay of ρ':datum.label=='d'?'direct π':'ρ'"}}}}
]},
{"data":{"values":[{"t":"(a)"}]},"mark":{"type":"text","align":"right","baseline":"middle","fontSize":9.5,"fontWeight":"bold"},"encoding":{"text":{"field":"t"},"x":{"datum":7.54,"axis":null},"y":{"datum":0.229,"axis":null}}},
{"data":{"values":[{"t":"Pb+Pb √s"}]},"mark":{"type":"text","align":"left","baseline":"alphabetic","fontSize":8,"fontWeight":"bold"},"encoding":{"text":{"field":"t"},"x":{"datum":0.31,"axis":null},"y":{"datum":0.15,"axis":null}}},
{"data":{"values":[{"t":"NN"}]},"mark":{"type":"text","align":"left","baseline":"alphabetic","fontSize":5.5,"fontWeight":"bold"},"encoding":{"text":{"field":"t"},"x":{"datum":1.96,"axis":null},"y":{"datum":0.146,"axis":null}}},
{"data":{"values":[{"t":"= 2.76 TeV 20-30%"}]},"mark":{"type":"text","align":"left","baseline":"alphabetic","fontSize":8,"fontWeight":"bold"},"encoding":{"text":{"field":"t"},"x":{"datum":2.38,"axis":null},"y":{"datum":0.15,"axis":null}}},
{"data":{"values":[{"t":"HYDJET++"}]},"mark":{"type":"text","align":"left","baseline":"alphabetic","fontSize":9,"fontWeight":"bold","fill":"#1f1f8f"},"encoding":{"text":{"field":"t"},"x":{"datum":2.32,"axis":null},"y":{"datum":0.1315,"axis":null}}},
{"data":{"values":[{"t":"v"}]},"mark":{"type":"text","align":"center","baseline":"middle","angle":270,"fontSize":14,"fontWeight":"bold"},"encoding":{"text":{"field":"t"},"x":{"datum":-1.05,"axis":null},"y":{"datum":-0.0112,"axis":null}}},
{"data":{"values":[{"t":"3"}]},"mark":{"type":"text","align":"center","baseline":"middle","angle":270,"fontSize":9,"fontWeight":"bold"},"encoding":{"text":{"field":"t"},"x":{"datum":-0.89,"axis":null},"y":{"datum":0.0012,"axis":null}}}
]},
{"width":180,"height":158,"data":{"name":"b"},
"resolve":{"axis":{"x":"independent","y":"independent"}},
"layer":[
{"encoding":{
"x":{"field":"x","type":"quantitative","scale":{"domain":[0,7.8],"nice":false,"zero":false},"axis":{"title":null,"labels":false,"values":[0,0.2,0.4,0.6,0.8,1,1.2,1.4,1.6,1.8,2,2.2,2.4,2.6,2.8,3,3.2,3.4,3.6,3.8,4,4.2,4.4,4.6,4.8,5,5.2,5.4,5.6,5.8,6,6.2,6.4,6.6,6.8,7,7.2,7.4,7.6],"tickSize":{"condition":{"test":"abs(datum.value-round(datum.value))<0.01","value":-6},"value":-3}}},
"y":{"field":"y","type":"quantitative","scale":{"domain":[-0.005,0.24],"nice":false,"zero":false},"axis":{"title":null,"labels":false,"values":[0,0.01,0.02,0.03,0.04,0.05,0.06,0.07,0.08,0.09,0.1,0.11,0.12,0.13,0.14,0.15,0.16,0.17,0.18,0.19,0.2,0.21,0.22,0.23],"tickSize":{"condition":{"test":"abs(datum.value*20-round(datum.value*20))<0.01","value":-6},"value":-3}}}},
"layer":[
{"transform":[{"filter":"datum.e>0"}],"mark":{"type":"errorbar","clip":true,"color":"#b4b4ea","thickness":2.5},"encoding":{"yError":{"field":"e"}}},
{"transform":[{"filter":"datum.e>0"}],"mark":{"type":"errorbar","clip":true,"color":"#1c1c96","thickness":1},"encoding":{"yError":{"field":"e"}}},
{"mark":{"type":"point","filled":true,"opacity":1},"encoding":{
"color":{"field":"s","type":"nominal","scale":{"domain":["q","d","r"],"range":["#1e96f0","#000000","#1ec81e"]},"legend":{"orient":"none","legendX":21,"legendY":0.5,"title":null,"labelExpr":"datum.label=='q'?'π from decay of ω':datum.label=='d'?'direct π':'ω'"}},
"shape":{"field":"s","type":"nominal","scale":{"domain":["q","d","r"],"range":["square","circle","triangle-down"]},"legend":{"orient":"none","legendX":21,"legendY":0.5,"title":null,"labelExpr":"datum.label=='q'?'π from decay of ω':datum.label=='d'?'direct π':'ω'"}},
"size":{"field":"s","type":"ordinal","scale":{"domain":["q","d","r"],"range":[30,24,60]},"legend":{"orient":"none","legendX":21,"legendY":0.5,"title":null,"labelExpr":"datum.label=='q'?'π from decay of ω':datum.label=='d'?'direct π':'ω'"}}}}
]},
{"data":{"values":[{"t":"(b)"}]},"mark":{"type":"text","align":"right","baseline":"middle","fontSize":9.5,"fontWeight":"bold"},"encoding":{"text":{"field":"t"},"x":{"datum":7.71,"axis":null},"y":{"datum":0.229,"axis":null}}}
]},
{"width":174,"height":152,"data":{"name":"c"},
"resolve":{"axis":{"x":"independent","y":"independent"}},
"layer":[
{"encoding":{
"x":{"field":"x","type":"quantitative","scale":{"domain":[0,7.8],"nice":false,"zero":false},"axis":{"title":null,"values":[0,0.2,0.4,0.6,0.8,1,1.2,1.4,1.6,1.8,2,2.2,2.4,2.6,2.8,3,3.2,3.4,3.6,3.8,4,4.2,4.4,4.6,4.8,5,5.2,5.4,5.6,5.8,6,6.2,6.4,6.6,6.8,7,7.2,7.4,7.6],"labelExpr":"abs(datum.value-round(datum.value))<0.01?format(datum.value,'d'):''","tickSize":{"condition":{"test":"abs(datum.value-round(datum.value))<0.01","value":-6},"value":-3},"labelPadding":6}},
"y":{"field":"y","type":"quantitative","scale":{"domain":[-0.005,0.24],"nice":false,"zero":false},"axis":{"title":null,"values":[0,0.01,0.02,0.03,0.04,0.05,0.06,0.07,0.08,0.09,0.1,0.11,0.12,0.13,0.14,0.15,0.16,0.17,0.18,0.19,0.2,0.21,0.22,0.23],"labelExpr":"abs(datum.value*20-round(datum.value*20))<0.01?format(datum.value,'~g'):''","tickSize":{"condition":{"test":"abs(datum.value*20-round(datum.value*20))<0.01","value":-6},"value":-3},"labelPadding":9}}},
"layer":[
{"transform":[{"filter":"datum.e>0"}],"mark":{"type":"errorbar","clip":true,"color":"#b4b4ea","thickness":2.5},"encoding":{"yError":{"field":"e"}}},
{"transform":[{"filter":"datum.e>0"}],"mark":{"type":"errorbar","clip":true,"color":"#1c1c96","thickness":1},"encoding":{"yError":{"field":"e"}}},
{"mark":{"type":"point","filled":true,"opacity":1},"encoding":{
"color":{"field":"s","type":"nominal","scale":{"domain":["q","d","r"],"range":["#1e96f0","#000000","#1ec81e"]},"legend":{"orient":"none","legendX":16,"legendY":2.5,"title":null,"labelExpr":"datum.label=='q'?'π from decay of Δ':datum.label=='d'?'direct π':'Δ'"}},
"shape":{"field":"s","type":"nominal","scale":{"domain":["q","d","r"],"range":["square","circle","triangle-down"]},"legend":{"orient":"none","legendX":16,"legendY":2.5,"title":null,"labelExpr":"datum.label=='q'?'π from decay of Δ':datum.label=='d'?'direct π':'Δ'"}},
"size":{"field":"s","type":"ordinal","scale":{"domain":["q","d","r"],"range":[30,24,60]},"legend":{"orient":"none","legendX":16,"legendY":2.5,"title":null,"labelExpr":"datum.label=='q'?'π from decay of Δ':datum.label=='d'?'direct π':'Δ'"}}}}
]},
{"data":{"values":[{"t":"(c)"}]},"mark":{"type":"text","align":"right","baseline":"middle","fontSize":9.5,"fontWeight":"bold"},"encoding":{"text":{"field":"t"},"x":{"datum":7.68,"axis":null},"y":{"datum":0.2305,"axis":null}}},
{"data":{"values":[{"t":"p"}]},"mark":{"type":"text","align":"left","baseline":"alphabetic","fontSize":13,"fontWeight":"bold"},"encoding":{"text":{"field":"t"},"x":{"datum":5.0,"axis":null},"y":{"datum":-0.0526,"axis":null}}},
{"data":{"values":[{"t":"T"}]},"mark":{"type":"text","align":"left","baseline":"alphabetic","fontSize":8.5,"fontWeight":"bold"},"encoding":{"text":{"field":"t"},"x":{"datum":5.38,"axis":null},"y":{"datum":-0.0595,"axis":null}}},
{"data":{"values":[{"t":"(GeV/c)"}]},"mark":{"type":"text","align":"left","baseline":"alphabetic","fontSize":13,"fontWeight":"bold"},"encoding":{"text":{"field":"t"},"x":{"datum":5.71,"axis":null},"y":{"datum":-0.0526,"axis":null}}}
]},
{"width":180,"height":152,"data":{"name":"d"},
"resolve":{"axis":{"x":"independent","y":"independent"}},
"layer":[
{"encoding":{
"x":{"field":"x","type":"quantitative","scale":{"domain":[0,7.8],"nice":false,"zero":false},"axis":{"title":null,"values":[0,0.2,0.4,0.6,0.8,1,1.2,1.4,1.6,1.8,2,2.2,2.4,2.6,2.8,3,3.2,3.4,3.6,3.8,4,4.2,4.4,4.6,4.8,5,5.2,5.4,5.6,5.8,6,6.2,6.4,6.6,6.8,7,7.2,7.4,7.6],"labelExpr":"abs(datum.value-round(datum.value))<0.01?format(datum.value,'d'):''","tickSize":{"condition":{"test":"abs(datum.value-round(datum.value))<0.01","value":-6},"value":-3},"labelPadding":6}},
"y":{"field":"y","type":"quantitative","scale":{"domain":[-0.005,0.24],"nice":false,"zero":false},"axis":{"title":null,"labels":false,"values":[0,0.01,0.02,0.03,0.04,0.05,0.06,0.07,0.08,0.09,0.1,0.11,0.12,0.13,0.14,0.15,0.16,0.17,0.18,0.19,0.2,0.21,0.22,0.23],"tickSize":{"condition":{"test":"abs(datum.value*20-round(datum.value*20))<0.01","value":-6},"value":-3}}}},
"layer":[
{"transform":[{"filter":"datum.e>0"}],"mark":{"type":"errorbar","clip":true,"color":"#b4b4ea","thickness":2.5},"encoding":{"yError":{"field":"e"}}},
{"transform":[{"filter":"datum.e>0"}],"mark":{"type":"errorbar","clip":true,"color":"#1c1c96","thickness":1},"encoding":{"yError":{"field":"e"}}},
{"mark":{"type":"point","filled":true,"opacity":1},"encoding":{
"color":{"field":"s","type":"nominal","scale":{"domain":["q","d","r"],"range":["#1e96f0","#000000","#1ec81e"]},"legend":{"orient":"none","legendX":19,"legendY":2.5,"title":null,"labelExpr":"datum.label=='q'?'p+p̄ from decay of Δ':datum.label=='d'?'direct p+p̄':'Δ'"}},
"shape":{"field":"s","type":"nominal","scale":{"domain":["q","d","r"],"range":["square","circle","triangle-down"]},"legend":{"orient":"none","legendX":19,"legendY":2.5,"title":null,"labelExpr":"datum.label=='q'?'p+p̄ from decay of Δ':datum.label=='d'?'direct p+p̄':'Δ'"}},
"size":{"field":"s","type":"ordinal","scale":{"domain":["q","d","r"],"range":[30,24,60]},"legend":{"orient":"none","legendX":19,"legendY":2.5,"title":null,"labelExpr":"datum.label=='q'?'p+p̄ from decay of Δ':datum.label=='d'?'direct p+p̄':'Δ'"}}}}
]},
{"data":{"values":[{"t":"(d)"}]},"mark":{"type":"text","align":"right","baseline":"middle","fontSize":9.5,"fontWeight":"bold"},"encoding":{"text":{"field":"t"},"x":{"datum":7.75,"axis":null},"y":{"datum":0.229,"axis":null}}}
]}
]
}
